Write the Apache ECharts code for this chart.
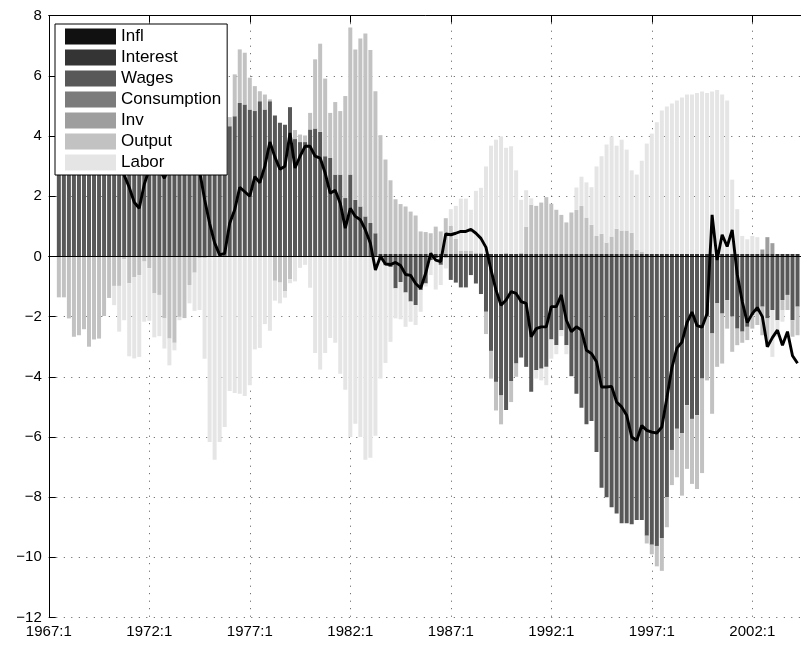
<!DOCTYPE html>
<html><head><meta charset="utf-8">
<script src="https://cdn.jsdelivr.net/npm/echarts@6/dist/echarts.min.js"></script>
<style>html,body{margin:0;padding:0;background:#fff}#c{width:801px;height:645px}</style>
</head><body><div id="c"></div>
<script>
// Quarterly axis: 1967:1 .. 2004:3 ; data run from 1967:3 to 2004:2
const startYear = 1967;
const nCategories = 151;
const firstDataIndex = 2;
const xTickLabels = ['1967:1','1972:1','1977:1','1982:1','1987:1','1992:1','1997:1','2002:1'];
const yMin = -12, yMax = 8, yStep = 2;

const seriesNames = ['Infl','Interest','Wages','Consumption','Inv','Output','Labor'];
const seriesColors = ['#111111','#343434','#585858','#7b7b7b','#9e9e9e','#c2c2c2','#e5e5e5'];

const inflVals = [];
const consumptionVals = [];
const interestVals = [
 0,0,0,0,0,0,0,0,0,0,
 0,0,0,0,0,0,0,0,0,0,
 0,0,0,0,0,0,0,0,0,0,
 0,0,0,0,0,0,0,0,0,0,
 0,0,0,0,0,0,0,0,0,0,
 0,0,0,0,0,0,0,0,0,0,
 0,0,0,0,0.08,0.08,0.08,0.08,0.08,0.08,
 0.08,0.08,0.08,0.08,0.08,0.08,0.08,0.08,0.08,0.08,
 0.08,0.08,0.08,0.08,0.08,0.08,0.08,0.08,0.08,0.08,
 0.08,0.08,0.08,0.08,0.08,0.08,0.08,0.08,0.08,0.08,
 0.08,0.08,0.08,0.08,0.08,0.08,0.08,0.08,0.08,0.08,
 0.08,0.08,0.08,0.08,0.08,0.08,0.08,0.08,0.08,0.08,
 0.08,0.08,0.08,0.08,0.08,0.08,0.08,0.08,0.08,0.08,
 0.08,0.08,0.08,0.08,0.08,0.08,0.08,0.08,0.08,0.08,
 0.08,0.08,0.08,0.08,0.08,0.08,0.08,0.08
];
const wagesVals = [
 4.6,4.9,5.4,6.0,6.3,6.0,6.5,6.1,6.2,5.2,
 4.8,4.6,5.0,4.8,5.2,5.1,4.9,4.6,4.7,5.5,
 5.3,5.5,6.2,6.3,5.8,6.0,5.3,5.0,4.4,4.6,
 5.3,5.5,5.0,4.6,4.33,4.66,5.1,5.05,4.88,4.83,
 5.16,4.88,5.16,4.68,4.44,4.38,4.96,3.9,3.8,3.8,
 4.22,4.25,4.14,3.33,3.27,2.72,2.72,1.94,2.72,1.88,
 1.66,1.33,1.11,0.77,-0.1,-0.3,-0.35,-1.06,-0.85,-1.2,
 -1.5,-1.62,-1.12,-0.9,-0.12,-0.06,-0.28,-0.04,-0.78,-0.87,
 -1.03,-1.03,-0.62,-0.9,-1.25,-1.84,-3.14,-4.17,-4.62,-5.1,
 -4.14,-3.56,-3.36,-3.67,-4.5,-3.78,-3.73,-3.67,-2.76,-2.95,
 -2.45,-2.95,-3.98,-4.56,-5.03,-5.58,-5.47,-6.5,-7.69,-8.0,
 -8.34,-8.54,-8.87,-8.87,-8.9,-8.76,-8.76,-9.28,-9.58,-9.62,
 -9.36,-8.0,-6.43,-5.73,-5.87,-4.95,-5.4,-5.28,-4.06,-2.0,
 -2.56,-1.56,-1.9,-1.45,-2.0,-2.4,-2.5,-2.34,-1.95,-1.84,
 -1.67,-2.06,-1.78,-2.12,-1.45,-1.28,-2.12,-1.67
];
const invVals = [
 0,0,0,0,0,0,0,0,0,0,
 0,0,0,0,0,0,0,0,0,0,
 0,0,0,0,0,0,0,0,0,0,
 0,0,0,0,0,0,0,0,0,0,
 0,0,0,0,0,0,0,0,0,0,
 0,0,0,0,0,0,0,0,0,0,
 0,0,0,0,0,0,0,0,0,0,
 0,0,0,0,0,0,0,0,0,0,
 0,0,0,0,0,0,0,0,0,0,
 0,0,0,0,0,0,0,0,0,0,
 0,0,0,0,0,0,0,0,0,0,
 0,0,0,0,0,0,0,0,0,0,
 0,0,0,0,0,0,0,0,0,0,
 0,0,0,0,0,0,0,0,0,0,
 0.15,0.56,0.36,0,0,0,0,0
];
const outputVals = [
 -1.36,-1.36,-2.06,-2.67,-2.62,-2.42,-3.0,-2.76,-2.73,-1.98,
 -1.38,-0.98,-0.98,-0.1,-0.89,-0.69,-0.62,-0.17,-0.39,-1.23,
 -1.28,-2.06,-2.73,-2.87,-2.01,-2.05,-0.95,-0.54,-0.05,-0.05,
 0,0,0,0,0.3,1.39,1.78,1.72,1.06,0.83,
 0.33,0.5,0.06,-0.81,-0.87,-1.15,-0.76,0.3,0.25,0.22,
 0.55,2.3,2.93,2.58,1.5,2.41,2.11,3.39,4.89,5.0,
 5.58,6.08,5.75,4.72,3.95,3.14,2.45,1.82,1.66,1.58,
 1.41,1.28,0.75,0.73,0.69,0.91,0.75,1.19,0.94,0.5,
 0.1,0.1,0.1,0.05,0.05,-0.74,-0.92,-0.95,-0.96,0.05,
 -0.7,-0.44,0.05,0.91,1.64,1.6,1.71,1.89,1.67,1.47,
 1.3,1.05,1.38,1.47,1.6,1.21,0.97,0.6,0.67,0.38,
 0.58,0.84,0.78,0.78,0.71,0.14,0.08,-0.26,-0.32,-0.68,
 -1.09,-1.0,-1.17,-1.61,-2.08,-2.11,-2.16,-2.45,-3.14,-2.12,
 -2.67,-2.11,-1.66,-0.95,-1.17,-0.55,-0.37,-0.44,-0.45,-0.44,
 -0.95,-0.94,0,0,-0.33,-0.5,-0.55,-0.95
];
const laborVals = [
 0,0,0,0,0,0,0,0,0,0,
 0,-0.64,-1.52,-2.02,-2.43,-2.7,-2.72,-2.0,-1.75,-1.46,
 -1.37,-1.0,-0.89,-0.25,-0.11,0,-0.61,-1.27,-1.73,-3.35,
 -6.17,-6.76,-6.17,-5.67,-4.47,-4.54,-4.56,-4.64,-4.28,-3.09,
 -3.04,-2.25,-2.47,-0.66,-0.69,-0.22,-0.13,-0.83,-0.38,-0.28,
 -1.04,-3.21,-3.76,-3.21,-2.71,-2.87,-3.9,-4.43,-6.0,-5.56,
 -6.0,-6.76,-6.69,-5.96,-3.96,-3.24,-2.49,-1.0,-1.24,-1.14,
 -0.67,-0.66,-0.72,-0.1,-0.5,-1.04,-0.67,-0.36,0.55,1.1,
 1.74,1.74,1.37,2.05,2.15,2.91,3.6,3.8,3.91,3.48,
 3.58,2.78,1.75,1.21,0.21,-0.28,-0.39,-0.61,-0.64,-0.3,
 -0.2,-0.3,0,0.74,0.97,1.17,1.25,2.31,2.58,3.26,
 3.33,2.76,3.02,2.69,2.07,2.5,3.02,3.67,4.0,4.38,
 4.77,4.9,5.0,5.1,5.2,5.3,5.3,5.35,5.4,5.35,
 5.4,5.45,5.3,5.1,2.47,1.49,0.6,0.49,0.6,0.56,
 0,0,-1.56,-0.55,-0.39,0,0,0
];
const actualVals = [
 3.2,3.5,3.3,3.8,4.0,3.6,3.9,3.4,3.6,3.2,
 3.4,3.0,3.1,2.7,2.3,1.8,1.6,2.4,2.9,3.2,
 2.9,2.6,3.0,3.5,3.9,4.2,4.0,3.6,2.85,1.9,
 1.1,0.45,0.05,0.1,1.1,1.55,2.3,2.15,2.0,2.65,
 2.45,3.0,3.8,3.3,2.9,3.0,4.1,2.94,3.33,3.66,
 3.66,3.33,3.27,2.77,2.1,2.2,1.77,0.94,1.6,1.33,
 1.22,0.88,0.44,-0.45,0.0,-0.25,-0.27,-0.2,-0.3,-0.6,
 -0.63,-0.9,-1.06,-0.56,0.1,-0.12,-0.17,0.75,0.72,0.77,
 0.83,0.83,0.9,0.77,0.6,0.3,-0.45,-1.12,-1.62,-1.45,
 -1.17,-1.23,-1.5,-1.56,-2.67,-2.4,-2.34,-2.34,-1.67,-1.67,
 -1.28,-2.12,-2.5,-2.34,-2.45,-3.12,-3.23,-3.5,-4.34,-4.34,
 -4.32,-4.84,-5.0,-5.28,-6.0,-6.12,-5.62,-5.78,-5.84,-5.87,
 -5.67,-4.7,-3.7,-3.05,-2.85,-2.2,-1.85,-2.3,-2.35,-1.9,
 1.38,-0.12,0.72,0.33,0.88,-0.6,-1.5,-2.2,-1.9,-1.7,
 -2.0,-3.0,-2.7,-2.45,-2.95,-2.5,-3.3,-3.55
];

// ---- build ----
const categories = [];
for (let k = 0; k < nCategories; k++) {
  categories.push((startYear + Math.floor(k / 4)) + ':' + (k % 4 + 1));
}
function pad(arr) {
  const out = new Array(nCategories).fill(null);
  arr.forEach((v, i) => { out[firstDataIndex + i] = v; });
  return out;
}
const valueSets = [inflVals, interestVals, wagesVals, consumptionVals, invVals, outputVals, laborVals];
const isTick = (i, v) => xTickLabels.indexOf(v) >= 0;
const font = 'Liberation Sans, Arial, Helvetica, sans-serif';

const series = seriesNames.map((name, i) => ({
  name: name,
  type: 'bar',
  stack: 'total',
  barWidth: 4,
  data: pad(valueSets[i]),
  itemStyle: { color: seriesColors[i] },
  emphasis: { disabled: true },
  z: 2
}));
series[series.length - 1].markLine = {
  silent: true, symbol: 'none', label: { show: false },
  lineStyle: { color: '#000', width: 1, type: 'solid' },
  data: [{ yAxis: 0 }]
};
series.push({
  name: 'Actual', type: 'line', data: pad(actualVals),
  showSymbol: false, symbol: 'none',
  lineStyle: { color: '#000', width: 2.9 },
  itemStyle: { color: '#000' }, z: 3
});

const chart = echarts.init(document.getElementById('c'), null, { renderer: 'canvas' });
chart.setOption({
  animation: false,
  backgroundColor: '#fff',
  grid: { left: 48.8, right: -1.55, top: 15.7, bottom: 27.5, containLabel: false, outerBoundsMode: 'none' },
  legend: {
    data: seriesNames, orient: 'vertical', left: 55, top: 24,
    itemWidth: 51, itemHeight: 16, itemGap: 4,
    padding: [4, 6, 4, 10],
    backgroundColor: '#fff', borderColor: '#000', borderWidth: 1,
    icon: 'rect', selectedMode: false, z: 20, zlevel: 0,
    textStyle: { fontSize: 17, color: '#000', fontFamily: font }
  },
  xAxis: [{
    type: 'category', data: categories, boundaryGap: false, position: 'bottom',
    axisLine: { lineStyle: { color: '#000', width: 1 } },
    axisTick: { inside: true, length: 7, interval: isTick, lineStyle: { color: '#000' } },
    axisLabel: { interval: isTick, color: '#000', fontSize: 15, fontFamily: font, margin: 7 },
    splitLine: { show: true, interval: isTick, lineStyle: { color: '#555', width: 1, type: [1, 6.5] } }
  }, {
    type: 'category', data: categories, boundaryGap: false, position: 'top',
    axisLine: { lineStyle: { color: '#000', width: 1 } },
    axisTick: { inside: true, length: 7, interval: isTick, lineStyle: { color: '#000' } },
    axisLabel: { show: false }, splitLine: { show: false }
  }],
  yAxis: {
    type: 'value', min: yMin, max: yMax, interval: yStep,
    axisLine: { show: true, lineStyle: { color: '#000', width: 1 } },
    axisTick: { show: true, inside: true, length: 7, lineStyle: { color: '#000' } },
    axisLabel: {
      color: '#000', fontSize: 15, fontFamily: font, margin: 7,
      formatter: v => (v < 0 ? '\u2212' + Math.abs(v) : String(v))
    },
    splitLine: { show: true, lineStyle: { color: '#555', width: 1, type: [1, 6.5] } }
  },
  series: series
});
</script></body></html>
